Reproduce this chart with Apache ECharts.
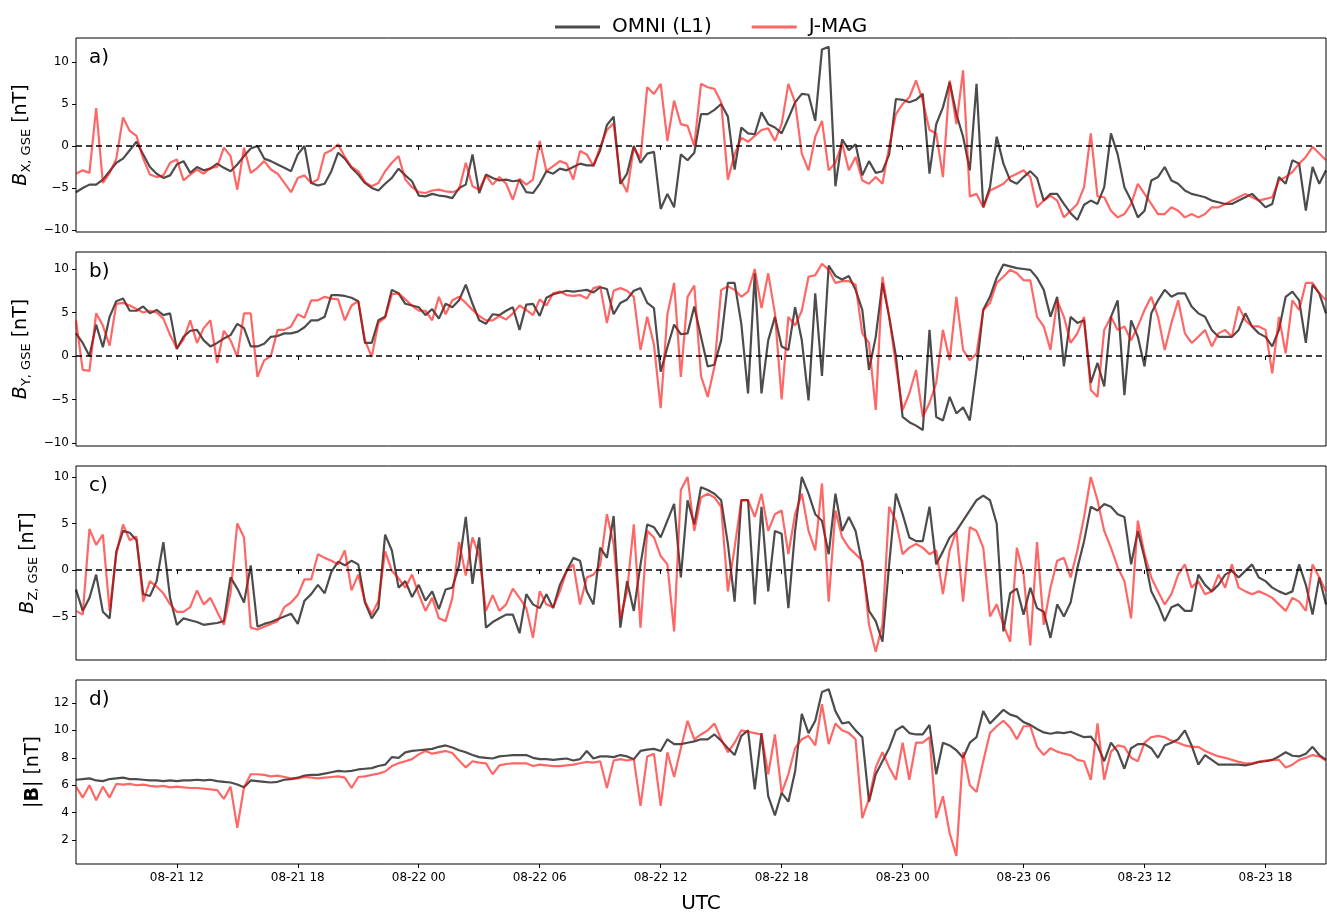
<!DOCTYPE html>
<html><head><meta charset="utf-8">
<script src="https://cdn.jsdelivr.net/npm/echarts@6/dist/echarts.min.js"></script>
<style>html,body{margin:0;padding:0;background:#fff}#c{width:1327px;height:915px}</style>
</head><body><div id="c"></div><script>
// time grid: hours after 08-21 00:00 UTC, one sample every 20 minutes from 07:00 on 08-21
const startHour = 7;
const stepHours = 1 / 3;
const xTickValues = [12, 18, 24, 30, 36, 42, 48, 54, 60, 66];
const xTickLabels = ['08-21 12','08-21 18','08-22 00','08-22 06','08-22 12','08-22 18','08-23 00','08-23 06','08-23 12','08-23 18'];
const seriesNames = ['OMNI (L1)', 'J-MAG'];
const panelLabels = ['a)', 'b)', 'c)', 'd)'];
const yTickValues = [[-10,-5,0,5,10],[-10,-5,0,5,10],[-5,0,5,10],[2,4,6,8,10,12]];

const omniBx = [
-5.5,-5.0,-4.6, -4.6,-4.0,-3.0, -2.0,-1.5,-0.5, 0.5,-1.0,-2.5, -3.3,-3.8,-3.5,
-2.2,-1.8,-3.2, -2.5,-2.9,-2.7, -2.1,-2.6,-3.0, -2.2,-1.2,-0.3, 0.0,-1.5,-1.8,
-2.2,-2.6,-3.0, -1.0,0.0,-4.4, -4.7,-4.5,-3.0, -0.8,-1.5,-2.6, -3.4,-4.4,-5.0,
-5.3,-4.5,-3.8, -2.7,-3.5,-4.2, -5.9,-6.0,-5.7, -5.9,-6.0,-6.2, -5.0,-4.6,-1.0,
-5.6,-3.4,-3.8,
-4.1,-4.0,-4.2, -4.1,-5.5,-5.6, -4.5,-3.0,-3.3, -2.7,-2.9,-2.5, -2.1,-2.3,-2.3,
-0.5,2.5,3.5, -4.5,-3.3,0.0, -2.0,-0.9,-0.7, -7.5,-5.7,-7.3, -1.0,-1.7,-0.8,
3.8,3.8,4.3, 5.0,3.5,-2.8, 2.2,1.5,1.4, 4.0,2.6,2.2, 1.5,3.3,5.2,
6.2,6.1,3.0, 11.5,11.8,-4.8, 0.8,-0.5,0.2, -3.5,-1.8,-3.2, -3.0,-1.0,5.6,
5.5,5.2,5.5,
6.2,-3.3,2.6, 4.6,7.6,3.8, 1.1,-2.9,7.4, -7.3,-4.9,1.1, -2.1,-4.1,-4.5,
-3.7,-3.0,-3.8, -6.5,-5.7,-5.7, -6.9,-8.0,-8.8, -7.0,-6.5,-6.9, -4.9,1.5,-1.0,
-4.9,-6.5,-8.5, -7.7,-4.1,-3.7, -2.5,-4.1,-4.5, -5.3,-5.7,-5.9, -6.1,-6.5,-6.7,
-6.9,-6.9,-6.5, -6.1,-5.7,-6.5, -7.3,-6.9,-3.7, -4.5,-1.7,-2.1, -7.7,-2.5,-4.5,
-2.9];
const jmagBx = [
-3.3,-2.9,-3.2, 4.5,-4.4,-3.2, -1.5,3.4,1.8, 1.2,-1.5,-3.4, -3.7,-3.5,-2.0,
-1.6,-4.1,-3.4, -2.8,-3.3,-2.6, -2.5,-0.2,-1.2, -5.2,-0.2,-3.2, -2.6,-1.8,-2.8,
-3.3,-4.4,-5.5, -3.8,-3.5,-4.4, -4.0,-0.9,-0.5, 0.2,-1.3,-2.5, -3.0,-4.3,-4.8,
-4.4,-3.0,-2.0, -1.2,-4.0,-4.9, -5.5,-5.6,-5.3, -5.2,-5.4,-5.5, -5.2,-2.0,-4.8,
-5.2,-3.5,-4.6,
-3.7,-4.5,-6.4, -3.9,-4.6,-4.0, 0.6,-3.0,-2.4, -1.8,-2.1,-4.0, -0.6,-1.0,-2.4,
-0.1,1.9,2.7, -3.9,-5.5,-0.2, -1.5,7.0,6.2, 7.4,0.6,5.4, 2.6,2.4,0.0,
7.4,7.0,6.8, 5.2,-4.0,-1.0, 1.0,0.5,1.2, 1.9,2.1,0.6, 2.6,7.4,5.2,
-0.9,-2.9,1.1, 3.0,-2.9,-2.0, 0.3,-2.9,-1.3, -4.1,-4.5,-3.7, -4.5,-0.1,3.8,
5.0,5.8,7.8,
5.4,1.9,1.5, -3.7,7.8,2.6, 9.0,-6.0,-5.7, -7.3,-5.3,-4.9, -4.5,-3.7,-3.3,
-2.9,-3.7,-7.3, -6.5,-5.9,-6.5, -8.5,-7.7,-6.9, -4.9,1.5,-6.0, -6.1,-7.7,-8.5,
-8.1,-6.9,-4.5, -5.7,-6.9,-8.1, -8.1,-7.3,-7.7, -8.5,-8.1,-8.5, -8.1,-7.3,-7.3,
-6.9,-6.5,-6.1, -5.7,-6.1,-6.5, -6.3,-6.1,-4.1, -3.7,-3.1,-2.1, -1.3,-0.1,-0.9,
-1.7];
const omniBy = [
2.6,1.5,0.0, 3.6,1.0,4.5, 6.3,6.6,5.2, 5.2,5.7,4.9, 5.3,4.7,4.9,
0.8,2.2,2.9, 3.0,1.8,1.1, 1.5,2.0,2.4, 3.7,3.2,1.1, 1.1,1.4,2.2,
2.3,2.6,2.6, 2.8,3.3,4.1, 4.1,4.5,7.0, 7.0,6.9,6.7, 6.3,1.5,1.5,
4.1,4.5,7.6, 7.2,6.0,5.8, 5.6,4.7,5.4, 4.3,6.0,5.6, 6.4,8.2,6.0,
4.1,3.7,4.8,
4.7,5.2,5.6, 3.0,5.9,6.0, 4.6,6.7,7.1, 7.3,7.5,7.4, 7.5,7.6,7.3,
7.9,7.7,4.8, 6.1,6.5,7.5, 7.8,6.1,5.5, -1.8,1.0,3.6, 2.5,2.6,5.7,
2.2,-1.2,-1.0, 1.8,8.4,8.4, 3.7,-4.3,9.5, -4.3,1.8,4.5, 1.1,0.7,5.6,
1.8,-5.1,7.2, -2.3,10.4,9.2, 8.8,9.2,7.6, 5.3,-1.6,2.2, 8.4,4.5,0.0,
-7.0,-7.6,-8.0,
-8.5,3.0,-7.0, -7.4,-4.7,-6.6, -5.9,-7.4,-1.5, 5.3,6.8,9.0, 10.5,10.3,10.1,
10.0,9.9,9.0, 7.6,4.5,6.8, -1.2,4.5,3.8, 4.1,-3.1,-0.8, -3.5,4.5,6.4,
-4.5,4.1,2.2, -1.2,4.9,6.4, 7.6,6.8,7.2, 7.2,5.7,4.9, 4.5,3.0,2.2,
2.2,2.2,3.0, 4.9,3.4,2.6, 2.2,1.1,3.0, 6.8,7.4,6.4, 1.5,8.2,7.2,
4.9];
const jmagBy = [
4.1,-1.6,-1.7, 4.9,3.5,1.2, 6.0,6.1,5.8, 5.4,5.0,5.2, 5.0,4.3,2.4,
0.9,1.9,4.1, 1.5,3.2,4.1, -0.8,2.9,1.8, -0.1,4.9,4.9, -2.4,-0.5,0.0,
3.0,3.0,3.4, 4.8,4.4,6.4, 6.4,6.8,6.6, 6.5,4.1,5.8, 6.3,1.8,-0.1,
3.8,4.4,7.1, 7.2,6.5,5.8, 5.2,5.2,4.1, 6.8,4.8,6.4, 6.8,6.1,5.3,
4.6,4.1,4.1,
4.6,4.2,4.9, 5.8,5.3,4.7, 6.5,5.8,7.2, 7.4,7.0,6.9, 7.0,6.6,7.8,
8.0,3.8,7.5, 7.8,7.5,6.8, 0.7,4.5,1.3, -6.0,4.8,8.4, -2.4,6.8,8.1,
-2.3,-4.7,-1.2, 7.6,8.0,7.6, 6.8,7.4,10.0, 5.5,9.5,4.9, -5.0,4.5,3.5,
5.2,9.1,9.3, 10.6,9.9,8.4, 8.6,8.6,8.2, 2.6,1.5,-6.2, 9.1,4.5,-1.0,
-6.2,-4.3,-1.6,
-7.0,-5.4,-3.1, 3.0,-0.5,6.8, 0.7,-0.5,0.3, 5.3,6.1,8.4, 9.1,9.9,9.5,
8.7,8.7,4.5, 3.4,0.7,6.4, 4.5,1.5,2.6, 4.5,-3.9,-4.7, 3.0,4.5,3.0,
3.4,1.8,3.4, 5.3,6.8,4.5, 0.7,3.8,6.4, 2.6,1.5,2.2, 3.0,1.1,2.6,
3.0,2.2,5.7, 4.1,3.4,3.4, 3.0,-2.0,4.5, 0.3,6.4,5.3, 8.4,8.4,7.2,
6.4];
const omniBz = [
-2.1,-4.4,-3.0, -0.5,-4.5,-5.2, 2.0,4.2,4.0, 3.2,-2.6,-2.8, -1.2,3.0,-3.0,
-5.9,-5.2,-5.4, -5.6,-5.9,-5.8, -5.7,-5.5,-0.8, -2.0,-3.5,0.5, -6.1,-5.8,-5.6,
-5.3,-5.0,-4.7, -5.8,-3.3,-2.6, -1.6,-2.5,-0.2, 0.9,0.5,1.0, 0.6,-3.5,-5.2,
-4.1,3.8,2.1, -1.9,-1.2,-2.9, -1.6,-3.3,-2.3, -4.2,-2.1,-1.9, 0.5,5.7,-1.5,
3.5,-6.2,-5.6,
-5.2,-4.8,-4.8, -6.8,-2.6,-3.7, -4.1,-2.6,-4.1, -1.6,-0.1,1.3, 1.0,-2.3,-3.7,
2.4,1.3,5.8, -6.2,-1.2,-4.4, 0.6,4.9,4.6, 3.5,5.3,7.1, -0.8,7.5,4.9,
8.9,8.6,8.2, 7.5,2.8,-3.4, 7.5,7.5,-3.7, 6.8,-2.3,4.2, 3.9,-4.1,4.2,
10.0,8.2,6.0, 5.3,1.7,8.2, 4.2,5.7,4.2, 0.6,-4.4,-5.5, -7.7,0.6,8.2,
6.0,3.5,3.1,
3.1,6.8,0.6, 2.0,3.5,4.2, 5.3,6.4,7.5, 8.0,7.5,5.0, -6.6,-2.5,-2.0,
-4.8,-1.9,-4.1, -4.5,-7.3,-3.7, -5.0,-3.5,0.2, 3.1,6.8,6.4, 7.1,6.8,6.0,
5.7,0.6,4.2, 1.3,-2.3,-3.7, -5.5,-4.0,-3.7, -4.4,-4.4,-0.5, -1.6,-2.3,-1.6,
-0.5,-0.1,-0.8, -0.1,0.6,-0.8, -1.2,-1.9,-2.3, -2.6,-2.3,0.6, -1.6,-4.8,-0.8,
-3.7];
const jmagBz = [
-4.4,-4.8,4.4, 2.7,3.8,-4.4, 1.7,4.9,3.2, 3.6,-3.4,-1.2, -1.8,-2.5,-3.7,
-4.5,-4.5,-4.0, -2.2,-3.7,-3.0, -4.5,-5.9,-2.5, 5.0,3.5,-6.2, -6.4,-6.1,-5.8,
-5.5,-4.0,-3.5, -2.7,-1.0,-1.0, 1.7,1.3,1.0, 0.6,2.1,-2.2, -0.5,-3.4,-4.8,
-3.3,2.0,-0.1, -0.9,-1.9,-0.5, -2.6,-4.4,-3.0, -5.2,-5.5,-3.0, 3.0,-0.6,3.5,
1.5,-4.4,-2.7,
-4.4,-3.7,-2.0, -3.0,-4.1,-7.3, -2.3,-3.7,-4.0, -2.3,-0.1,0.6, -3.7,-0.8,-0.5,
0.5,6.0,2.8, -5.2,-2.3,4.9, -6.2,4.2,3.5, 1.5,0.6,-6.6, 8.6,10.0,4.2,
7.8,8.2,7.8, 6.8,-2.3,2.4, 7.5,7.5,5.7, 8.2,4.2,6.0, 6.4,1.7,6.0,
8.2,4.2,2.1, 9.3,-3.4,6.4, 3.5,2.4,1.7, 1.0,-5.9,-8.8, -5.9,6.8,5.3,
1.7,2.4,2.8,
2.4,1.7,2.1, -2.6,2.1,4.2, -3.4,4.6,4.2, 2.4,-5.0,-3.7, -5.9,-7.7,2.4,
-0.5,-8.1,3.0, -5.9,-1.9,1.0, 1.3,-0.8,2.1, 5.7,10.0,7.5, 4.2,2.4,0.3,
-1.2,-5.2,5.3, 1.7,-0.8,-2.3, -3.7,-2.6,-0.5, 0.6,-1.9,-1.2, -2.6,-2.3,-0.5,
-1.9,0.6,-1.9, -2.3,-2.6,-2.3, -2.6,-3.0,-3.7, -4.4,-3.0,-3.4, -4.4,0.6,-0.8,
-2.3];
const omniB = [
6.4,6.45,6.5, 6.35,6.3,6.45, 6.5,6.55,6.45, 6.45,6.4,6.35, 6.35,6.3,6.35,
6.3,6.35,6.35, 6.4,6.35,6.4, 6.3,6.25,6.2, 6.05,5.85,6.35, 6.3,6.25,6.2,
6.25,6.4,6.45, 6.55,6.7,6.75, 6.75,6.85,6.95, 7.05,7.0,7.05, 7.15,7.2,7.25,
7.4,7.5,8.05, 8.0,8.4,8.5, 8.55,8.6,8.65, 8.8,8.9,8.75, 8.55,8.4,8.2,
8.05,8.0,7.95,
8.1,8.15,8.2, 8.2,8.2,8.0, 7.9,7.9,7.85, 7.9,7.95,7.8, 7.9,8.5,7.95,
8.1,8.1,8.05, 8.2,8.1,7.9, 8.5,8.6,8.65, 8.5,9.35,9.0, 9.0,9.1,9.2,
9.35,9.35,9.7, 9.25,8.7,8.2, 9.6,10.0,5.7, 9.8,5.2,3.8, 5.45,4.8,7.0,
11.2,9.8,10.7, 12.8,13.0,11.4, 10.5,10.6,10.0, 9.5,4.8,6.8, 7.75,8.7,10.0,
10.3,9.8,9.7,
9.7,10.4,6.8, 9.1,8.9,8.55, 8.0,9.1,9.5, 11.4,10.5,11.0, 11.5,11.15,11.0,
10.6,10.4,10.1, 9.85,9.75,9.85, 9.8,9.9,9.7, 9.5,9.55,8.9, 7.75,9.1,8.45,
7.2,8.7,9.0, 9.0,8.7,8.0, 8.9,9.1,9.35, 10.0,8.9,7.5, 8.2,7.85,7.5,
7.5,7.5,7.5, 7.45,7.55,7.7, 7.75,7.85,8.1, 8.4,8.15,8.1, 8.3,8.8,8.2,
7.85];
const jmagB = [
5.9,5.1,6.0, 4.9,5.9,5.1, 6.1,6.05,6.1, 6.0,6.05,5.95, 5.9,5.95,5.85,
5.9,5.85,5.8, 5.8,5.75,5.7, 5.65,5.0,5.9, 2.9,5.85,6.8, 6.8,6.75,6.65,
6.7,6.6,6.5, 6.5,6.6,6.55, 6.5,6.55,6.6, 6.65,6.55,5.8, 6.6,6.65,6.75,
6.85,7.0,7.4, 7.6,7.75,7.9, 8.25,8.5,8.3, 8.4,8.5,8.35, 7.8,7.3,7.75,
7.65,7.6,6.8,
7.45,7.55,7.6, 7.6,7.6,7.4, 7.5,7.45,7.4, 7.4,7.45,7.5, 7.6,7.7,7.65,
7.75,5.8,7.8, 7.9,7.8,7.9, 4.5,8.1,8.3, 4.5,8.4,6.6, 8.7,10.7,9.35,
9.7,10.0,10.5, 9.35,8.4,9.1, 10.0,9.9,9.8, 9.7,6.8,9.7, 5.45,6.8,8.7,
9.35,9.6,8.9, 11.9,9.0,10.5, 10.0,9.8,9.35, 3.6,5.0,7.3, 8.4,7.3,6.4,
9.1,6.4,9.1,
9.1,9.5,3.6, 5.2,2.5,0.85, 8.4,6.0,5.5, 7.75,9.8,10.3, 10.7,10.2,9.35,
10.3,10.3,8.8, 8.2,8.7,8.45, 8.3,8.2,7.85, 7.75,6.4,10.5, 6.4,8.45,8.9,
8.8,8.0,7.75, 9.1,9.5,9.6, 9.5,9.25,9.1, 8.9,8.8,8.8, 8.5,8.3,8.1,
8.0,7.85,7.7, 7.6,7.6,7.7, 7.8,7.85,7.85, 7.3,7.5,7.85, 8.0,8.2,8.1,
7.8];

function toPairs(arr) { return arr.map((v, i) => [startHour + i * stepHours, v]); }

const panels = [
  { omni: omniBx, jmag: jmagBx, min: -10.24, max: 12.86, name: '{i|B}{s|X, GSE}{n| [nT]}', zero: true, gap: 34 },
  { omni: omniBy, jmag: jmagBy, min: -10.34, max: 11.95, name: '{i|B}{s|Y, GSE}{n| [nT]}', zero: true, gap: 34 },
  { omni: omniBz, jmag: jmagBz, min: -9.68, max: 11.18, name: '{i|B}{s|Z, GSE}{n| [nT]}', zero: true, gap: 34 },
  { omni: omniB, jmag: jmagB, min: 0.26, max: 13.67, name: '{n||}{b|B}{n|| [nT]}', zero: false, gap: 30 }
];
const tops = [38, 252, 466, 680];
const heights = [194, 194, 194, 193];
const FONT = 'DejaVu Sans';

const grids = [], xAxes = [], yAxes = [], series = [], graphics = [];
panels.forEach((p, k) => {
  grids.push({ left: 76, top: tops[k], width: 1250, height: heights[k], show: true,
    borderColor: '#000', borderWidth: 1, backgroundColor: 'transparent', containLabel: false });
  xAxes.push({
    type: 'value', gridIndex: k, min: 7, max: 69,
    axisLine: { show: false },
    axisTick: { show: true, length: 4, customValues: xTickValues, lineStyle: { color: '#000', width: 1 } },
    axisLabel: { show: k === 3, customValues: xTickValues, margin: 8, fontFamily: FONT, fontSize: 12, color: '#000',
      formatter: v => { const j = xTickValues.indexOf(Math.round(v)); return j >= 0 ? xTickLabels[j] : ''; } },
    splitLine: { show: false },
    name: k === 3 ? 'UTC' : '', nameLocation: 'middle', nameGap: 30,
    nameTextStyle: { fontFamily: FONT, fontSize: 20, color: '#000' }
  });
  yAxes.push({
    type: 'value', gridIndex: k, min: p.min, max: p.max,
    axisLine: { show: false },
    axisTick: { show: true, length: 4, customValues: yTickValues[k], lineStyle: { color: '#000', width: 1 } },
    axisLabel: { customValues: yTickValues[k], margin: 7, fontFamily: FONT, fontSize: 12, color: '#000',
      formatter: v => (v < 0 ? '\u2212' + Math.abs(v) : String(v)) },
    splitLine: { show: false },
    name: p.name, nameLocation: 'middle', nameRotate: 90, nameGap: p.gap,
    nameTextStyle: { fontFamily: FONT, fontSize: 19, color: '#000',
      rich: {
        i: { fontFamily: FONT, fontSize: 19, fontStyle: 'italic', lineHeight: 24, color: '#000' },
        s: { fontFamily: FONT, fontSize: 13, lineHeight: 13, verticalAlign: 'bottom', color: '#000' },
        n: { fontFamily: FONT, fontSize: 19, lineHeight: 24, color: '#000' },
        b: { fontFamily: FONT, fontSize: 19, fontWeight: 'bold', lineHeight: 24, color: '#000' }
      } }
  });
  series.push({
    name: seriesNames[0], type: 'line', xAxisIndex: k, yAxisIndex: k, data: toPairs(p.omni),
    symbol: 'none', showSymbol: false, animation: false, z: 2,
    lineStyle: { color: 'rgba(0,0,0,0.7)', width: 2.2 }, itemStyle: { color: 'rgba(0,0,0,0.7)' }
  });
  const js = {
    name: seriesNames[1], type: 'line', xAxisIndex: k, yAxisIndex: k, data: toPairs(p.jmag),
    symbol: 'none', showSymbol: false, animation: false, z: 3,
    lineStyle: { color: 'rgba(255,0,0,0.6)', width: 2.2 }, itemStyle: { color: 'rgba(255,0,0,0.6)' }
  };
  if (p.zero) {
    js.markLine = { silent: true, symbol: ['none', 'none'], animation: false, label: { show: false },
      lineStyle: { color: '#000', type: [6, 4], width: 1.5, opacity: 1 }, data: [{ yAxis: 0 }] };
  }
  series.push(js);
  graphics.push({ type: 'text', left: 89, top: tops[k] + 10, z: 10,
    style: { text: panelLabels[k], fontFamily: FONT, fontSize: 20, fill: '#000' } });
});

const chart = echarts.init(document.getElementById('c'));
chart.setOption({
  animation: false,
  backgroundColor: '#fff',
  legend: { data: seriesNames, top: 12, left: 550, icon: 'rect', itemWidth: 45, itemHeight: 3, itemGap: 40,
    textStyle: { fontFamily: FONT, fontSize: 20, color: '#000', padding: [0, 0, 0, 7] } },
  grid: grids, xAxis: xAxes, yAxis: yAxes, series: series, graphic: graphics
});
</script></body></html>
